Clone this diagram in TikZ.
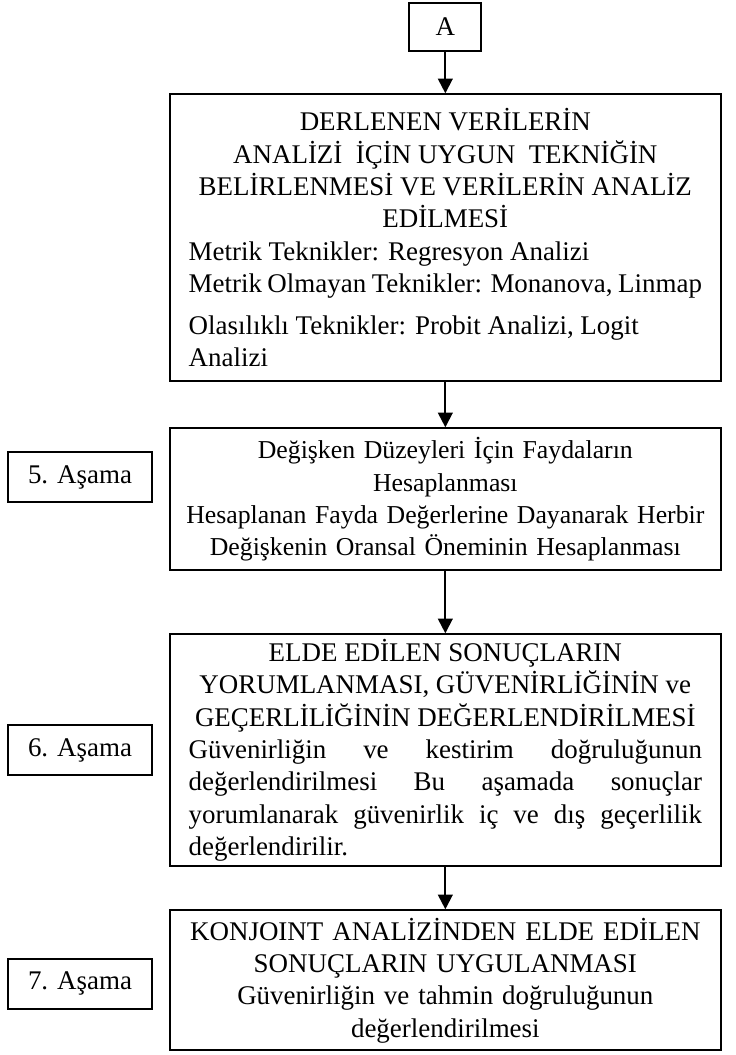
\documentclass[tikz,border=0pt]{standalone}
\usepackage{fontspec}
\setmainfont{Liberation Serif}
\usepackage{tikz}
\usetikzlibrary{arrows.meta}
\usetikzlibrary{positioning}
\setlength{\parindent}{0pt}

\begin{document}
\begin{tikzpicture}[node distance = 0.68cm, auto, % spacing between the stages
			block/.style={
					rectangle,
					draw,
					line width=0.85pt,
					text width=7.7cm,
					align=center,
					inner xsep=0.28cm,
					inner ysep=0.05cm,
					font=\fontsize{11.5}{13.8}\selectfont
				},
			stagebox/.style={
					rectangle,
					draw,
					line width=0.85pt,
					minimum width=2.16cm,
					minimum height=0.75cm,
					font=\fontsize{11.5}{13.8}\selectfont
				},
			line/.style={draw, line width=0.85pt, -{Triangle[length=0.22cm, width=0.22cm]}}
		]
		\useasboundingbox (0,0) rectangle (11.025,-15.825);
		% Place nodes
		\node [stagebox, minimum width=1.08cm, minimum height=0.72cm] (start) at (6.68,-0.405) {A};
		\node [block, align=justify, minimum height=4.3cm, below=0.62cm of start] (analiz) {{\centering DERLENEN VERİLERİN\\ ANALİZİ\ \ İÇİN UYGUN\ \ TEKNİĞİN\\ BELİRLENMESİ VE VERİLERİN ANALİZ\\ EDİLMESİ\par}Metrik Teknikler: Regresyon Analizi\par Metrik Olmayan Teknikler: Monanova, Linmap\par\vspace{4pt}Olasılıklı Teknikler: Probit Analizi, Logit\par Analizi};
		\node [block, minimum height=2.13cm, below=of analiz, font=\fontsize{11}{13.8}\selectfont] (fayda) {Değişken Düzeyleri İçin Faydaların\\ Hesaplanması\\ \makebox[\linewidth]{Hesaplanan Fayda Değerlerine Dayanarak Herbir}\\ Değişkenin Oransal Öneminin Hesaplanması};
		\node [block, align=justify, minimum height=3.48cm, below=0.93cm of fayda] (yorum) {{\centering ELDE EDİLEN SONUÇLARIN\\ YORUMLANMASI, GÜVENİRLİĞİNİN ve\\ GEÇERLİLİĞİNİN DEĞERLENDİRİLMESİ\par}Güvenirliğin ve kestirim doğruluğunun\linebreak değerlendirilmesi Bu aşamada sonuçlar\linebreak yorumlanarak güvenirlik iç ve dış geçerlilik\linebreak değerlendirilir.};
		\node [block, minimum height=2.1cm, below=0.63cm of yorum] (uygula) {KONJOINT ANALİZİNDEN ELDE EDİLEN\\ SONUÇLARIN UYGULANMASI\\ Güvenirliğin ve tahmin doğruluğunun\\ değerlendirilmesi};
		\node [stagebox, left=0.24cm of fayda, yshift=0.33cm] (asama5) {5. Aşama};
		\node [stagebox, left=0.24cm of yorum] (asama6) {6. Aşama};
		\node [stagebox, left=0.24cm of uygula, yshift=-0.05cm] (asama7) {7. Aşama};
		% Draw edges
		\path [line] (start) -- (analiz);
		\path [line] (analiz) -- (fayda);
		\path [line] (fayda) -- (yorum);
		\path [line] (yorum) -- (uygula);
	\end{tikzpicture}
\end{document}
